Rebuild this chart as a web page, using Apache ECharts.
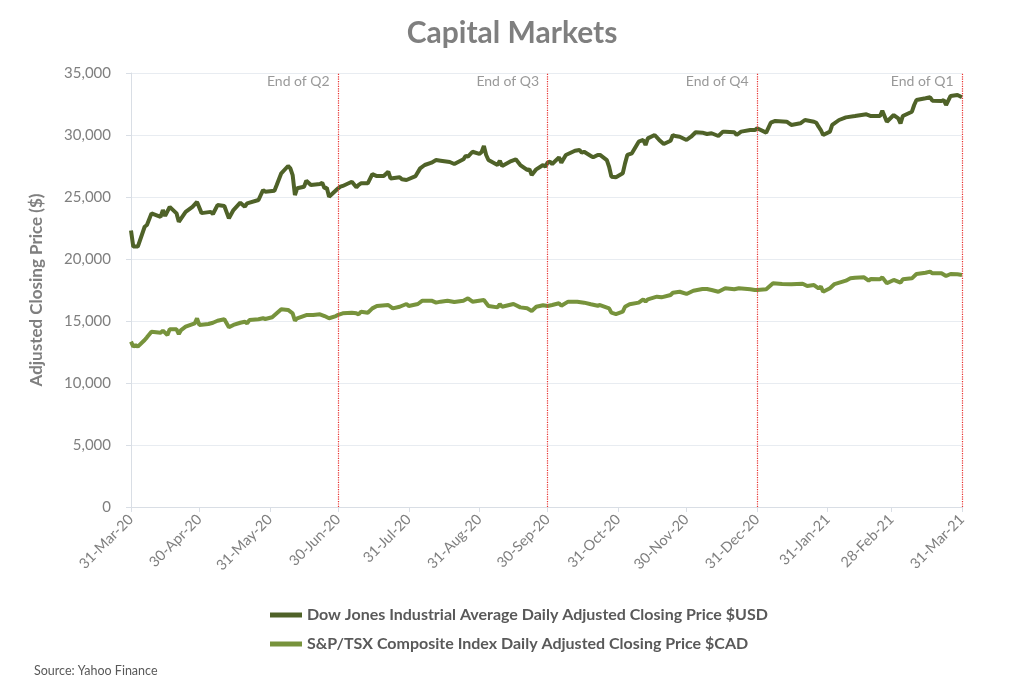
<!DOCTYPE html>
<html>
<head>
<meta charset="utf-8">
<script src="https://cdn.jsdelivr.net/npm/echarts@6/dist/echarts.min.js"></script>
<style>
html,body{margin:0;padding:0;background:#fff;}
#chart{width:1024px;height:679px;}
</style>
</head>
<body>
<div id="chart"></div>
<script>
// ---- Data ----
const seriesNames = [
  'Dow Jones Industrial Average Daily Adjusted Closing Price $USD',
  'S&P/TSX Composite Index Daily Adjusted Closing Price $CAD'
];

const dowDates = ['2020-03-31','2020-04-01','2020-04-03','2020-04-06','2020-04-07','2020-04-09','2020-04-13','2020-04-14','2020-04-15','2020-04-17','2020-04-20','2020-04-21','2020-04-24','2020-04-27','2020-04-29','2020-05-01','2020-05-05','2020-05-06','2020-05-08','2020-05-11','2020-05-13','2020-05-15','2020-05-18','2020-05-20','2020-05-21','2020-05-26','2020-05-27','2020-05-28','2020-05-29','2020-06-02','2020-06-03','2020-06-05','2020-06-08','2020-06-09','2020-06-10','2020-06-11','2020-06-12','2020-06-15','2020-06-16','2020-06-18','2020-06-22','2020-06-23','2020-06-24','2020-06-25','2020-06-26','2020-06-30','2020-07-01','2020-07-02','2020-07-06','2020-07-08','2020-07-09','2020-07-10','2020-07-13','2020-07-15','2020-07-17','2020-07-20','2020-07-22','2020-07-23','2020-07-27','2020-07-28','2020-07-30','2020-08-03','2020-08-05','2020-08-07','2020-08-10','2020-08-12','2020-08-14','2020-08-18','2020-08-20','2020-08-24','2020-08-25','2020-08-26','2020-08-28','2020-08-31','2020-09-01','2020-09-02','2020-09-03','2020-09-04','2020-09-08','2020-09-09','2020-09-10','2020-09-14','2020-09-16','2020-09-18','2020-09-21','2020-09-22','2020-09-23','2020-09-25','2020-09-28','2020-09-29','2020-09-30','2020-10-01','2020-10-02','2020-10-05','2020-10-06','2020-10-08','2020-10-12','2020-10-14','2020-10-15','2020-10-16','2020-10-19','2020-10-20','2020-10-22','2020-10-23','2020-10-26','2020-10-27','2020-10-28','2020-10-30','2020-11-02','2020-11-03','2020-11-04','2020-11-06','2020-11-09','2020-11-11','2020-11-12','2020-11-13','2020-11-16','2020-11-18','2020-11-20','2020-11-23','2020-11-24','2020-11-25','2020-11-27','2020-11-30','2020-12-02','2020-12-04','2020-12-07','2020-12-09','2020-12-11','2020-12-14','2020-12-16','2020-12-17','2020-12-21','2020-12-22','2020-12-24','2020-12-28','2020-12-30','2020-12-31','2021-01-04','2021-01-06','2021-01-08','2021-01-13','2021-01-15','2021-01-19','2021-01-21','2021-01-25','2021-01-26','2021-01-27','2021-01-28','2021-01-29','2021-02-01','2021-02-02','2021-02-05','2021-02-08','2021-02-12','2021-02-17','2021-02-19','2021-02-23','2021-02-24','2021-02-26','2021-03-01','2021-03-03','2021-03-04','2021-03-05','2021-03-09','2021-03-10','2021-03-11','2021-03-15','2021-03-17','2021-03-18','2021-03-22','2021-03-23','2021-03-24','2021-03-26','2021-03-29','2021-03-31'];
const dowValues = [22300,21000,21000,22600,22740,23680,23400,23950,23470,24200,23680,23000,23800,24200,24600,23700,23800,23630,24350,24270,23280,23950,24540,24220,24490,24760,25160,25560,25430,25510,25970,26910,27500,27310,26770,25160,25700,25830,26310,25970,26050,26150,25700,25750,25020,25700,25830,25890,26230,25780,25970,26100,26100,26850,26690,26690,27040,26500,26590,26430,26370,26690,27310,27580,27770,27980,27930,27820,27660,28040,28310,28250,28650,28470,28630,29110,28390,27980,27580,27930,27500,27900,28040,27580,27180,27230,26770,27230,27580,27440,27780,27850,27660,28200,27770,28390,28730,28790,28570,28650,28310,28200,28390,28390,27980,27440,26640,26590,26910,27710,28390,28520,29460,29600,29190,29730,30000,29600,29270,29540,30000,29920,29860,29600,29860,30220,30190,30080,30140,29920,30270,30270,30220,30000,30270,30400,30400,30540,30190,30990,31130,31070,30810,30940,31210,31070,30990,30670,30400,30000,30270,30810,31210,31420,31530,31670,31530,31530,31960,31070,31610,31340,30940,31530,31880,32420,32820,32960,33040,32770,32740,32820,32420,33150,33230,33040];

const tsxDates = ['2020-03-31','2020-04-01','2020-04-02','2020-04-03','2020-04-06','2020-04-07','2020-04-09','2020-04-13','2020-04-14','2020-04-16','2020-04-17','2020-04-20','2020-04-21','2020-04-22','2020-04-24','2020-04-28','2020-04-29','2020-04-30','2020-05-04','2020-05-06','2020-05-08','2020-05-11','2020-05-13','2020-05-15','2020-05-18','2020-05-20','2020-05-21','2020-05-22','2020-05-26','2020-05-28','2020-05-29','2020-06-01','2020-06-03','2020-06-05','2020-06-08','2020-06-10','2020-06-11','2020-06-12','2020-06-16','2020-06-19','2020-06-22','2020-06-24','2020-06-26','2020-06-29','2020-06-30','2020-07-02','2020-07-06','2020-07-08','2020-07-09','2020-07-10','2020-07-13','2020-07-15','2020-07-17','2020-07-22','2020-07-24','2020-07-27','2020-07-30','2020-07-31','2020-08-04','2020-08-06','2020-08-10','2020-08-12','2020-08-14','2020-08-17','2020-08-20','2020-08-24','2020-08-26','2020-08-28','2020-09-02','2020-09-04','2020-09-08','2020-09-09','2020-09-10','2020-09-15','2020-09-18','2020-09-21','2020-09-23','2020-09-25','2020-09-28','2020-09-30','2020-10-02','2020-10-05','2020-10-06','2020-10-09','2020-10-13','2020-10-16','2020-10-19','2020-10-22','2020-10-23','2020-10-27','2020-10-28','2020-10-30','2020-11-02','2020-11-03','2020-11-05','2020-11-09','2020-11-11','2020-11-12','2020-11-13','2020-11-17','2020-11-19','2020-11-23','2020-11-24','2020-11-27','2020-11-30','2020-12-03','2020-12-07','2020-12-09','2020-12-11','2020-12-14','2020-12-17','2020-12-21','2020-12-23','2020-12-28','2020-12-30','2020-12-31','2021-01-04','2021-01-05','2021-01-07','2021-01-11','2021-01-15','2021-01-20','2021-01-22','2021-01-25','2021-01-27','2021-01-28','2021-01-29','2021-02-01','2021-02-03','2021-02-08','2021-02-10','2021-02-12','2021-02-16','2021-02-18','2021-02-19','2021-02-23','2021-02-24','2021-02-26','2021-03-01','2021-03-04','2021-03-05','2021-03-09','2021-03-11','2021-03-15','2021-03-17','2021-03-18','2021-03-22','2021-03-24','2021-03-26','2021-03-29','2021-03-31'];
const tsxValues = [13330,12930,13060,12930,13470,13680,14140,14060,14220,13870,14330,14330,13950,14270,14540,14810,15220,14680,14760,14860,15020,15140,14490,14680,14860,14940,14810,15080,15140,15220,15160,15300,15620,15940,15890,15620,15020,15220,15480,15480,15540,15400,15220,15400,15500,15620,15670,15620,15540,15750,15670,16020,16210,16290,16020,16150,16370,16210,16370,16640,16640,16480,16560,16640,16530,16640,16830,16560,16690,16210,16100,16370,16150,16370,16100,16020,15810,16150,16270,16210,16290,16430,16230,16560,16560,16480,16350,16230,16290,16020,15670,15560,15750,16150,16350,16480,16750,16560,16750,16960,16910,17100,17280,17360,17180,17440,17580,17580,17500,17360,17640,17560,17640,17560,17500,17500,17560,17720,18040,17980,17960,18010,17820,17900,17640,17770,17360,17640,17980,18250,18440,18490,18520,18250,18390,18360,18520,18040,18310,18090,18360,18440,18790,18890,18980,18850,18850,18630,18790,18770,18710];

const tickLabels = ['31-Mar-20','30-Apr-20','31-May-20','30-Jun-20','31-Jul-20','31-Aug-20','30-Sep-20','31-Oct-20','30-Nov-20','31-Dec-20','31-Jan-21','28-Feb-21','31-Mar-21'];
const quarterDates = ['2020-06-30','2020-09-30','2020-12-31','2021-03-31'];
const quarterNames = ['End of Q2','End of Q3','End of Q4','End of Q1'];
const yTicks = [0, 35000, 5000]; // min, max, interval

// ---- helpers ----
function isoTs(s){const p=s.split('-');return Date.UTC(+p[0],+p[1]-1,+p[2]);}
const MONTHS={Jan:0,Feb:1,Mar:2,Apr:3,May:4,Jun:5,Jul:6,Aug:7,Sep:8,Oct:9,Nov:10,Dec:11};
function lblTs(s){const p=s.split('-');return Date.UTC(2000+(+p[2]),MONTHS[p[1]],+p[0]);}
const tickTs = tickLabels.map(lblTs);

const FONT = 'Lato, "Open Sans", sans-serif';
const chart = echarts.init(document.getElementById('chart'), null, {renderer:'canvas'});
chart.setOption({
  backgroundColor:'#ffffff',
  animation:false,
  textStyle:{fontFamily:FONT},
  title:[
    {text:'Capital Markets', left:'center', top:13,
     textStyle:{fontFamily:FONT, fontSize:30, fontWeight:'bold', color:'#7f7f7f'}},
    {text:'Source: Yahoo Finance', left:29, top:659,
     textStyle:{fontFamily:FONT, fontSize:12.5, fontWeight:'normal', color:'#595959'}}
  ],
  legend:{
    data:seriesNames, orient:'vertical', left:265, top:602, itemGap:13,
    itemWidth:32, itemHeight:5, icon:'rect',
    textStyle:{fontFamily:FONT, fontSize:16, fontWeight:'bold', color:'#595959'}
  },
  grid:{left:131, right:62, top:73, bottom:172},
  xAxis:{
    type:'value', min:tickTs[0], max:tickTs[tickTs.length-1],
    axisLine:{show:true, lineStyle:{color:'#d9dee5', width:1}},
    axisTick:{show:true, customValues:tickTs, length:5, lineStyle:{color:'#d9dee5'}},
    axisLabel:{customValues:tickTs, rotate:45, fontSize:14.5, color:'#7f7f7f', margin:10,
      fontFamily:FONT,
      formatter:function(v){const i=tickTs.indexOf(v);return i>=0?tickLabels[i]:'';}},
    splitLine:{show:false}
  },
  yAxis:{
    type:'value', min:yTicks[0], max:yTicks[1], interval:yTicks[2],
    name:'Adjusted Closing Price ($)', nameLocation:'middle', nameGap:86,
    nameTextStyle:{fontFamily:FONT, fontSize:17, fontWeight:'bold', color:'#7f7f7f'},
    axisLine:{show:true, lineStyle:{color:'#d9dee5'}},
    axisTick:{show:true, length:5, lineStyle:{color:'#d9dee5'}},
    axisLabel:{fontSize:15, color:'#7f7f7f', margin:20, fontFamily:FONT,
      formatter:function(v){return v.toLocaleString('en-US');}},
    splitLine:{show:true, lineStyle:{color:'#e8ecf1', width:1}}
  },
  series:[
    {
      name:seriesNames[0], type:'line', showSymbol:false, symbol:'none',
      data:dowDates.map((d,i)=>[isoTs(d), dowValues[i]]),
      lineStyle:{color:'#4f6228', width:4}, itemStyle:{color:'#4f6228'},
      z:3,
      markLine:{
        silent:true, symbol:'none', label:{show:false},
        lineStyle:{color:'#e8312f', type:'dotted', width:1.2},
        data:quarterDates.map(d=>({xAxis:isoTs(d)}))
      }
    },
    {
      name:seriesNames[1], type:'line', showSymbol:false, symbol:'none',
      data:tsxDates.map((d,i)=>[isoTs(d), tsxValues[i]]),
      lineStyle:{color:'#77933c', width:4}, itemStyle:{color:'#77933c'},
      z:3
    },
    {
      name:'quarters', type:'scatter', silent:true, symbolSize:1,
      itemStyle:{color:'rgba(0,0,0,0)'},
      data:quarterDates.map(d=>[isoTs(d), yTicks[1]]),
      label:{show:true, position:'left', distance:8, offset:[0,8],
        fontFamily:FONT, fontSize:14, color:'#7f7f7f',
        formatter:function(p){return quarterNames[p.dataIndex];}},
      z:4
    }
  ]
});
</script>
</body>
</html>
